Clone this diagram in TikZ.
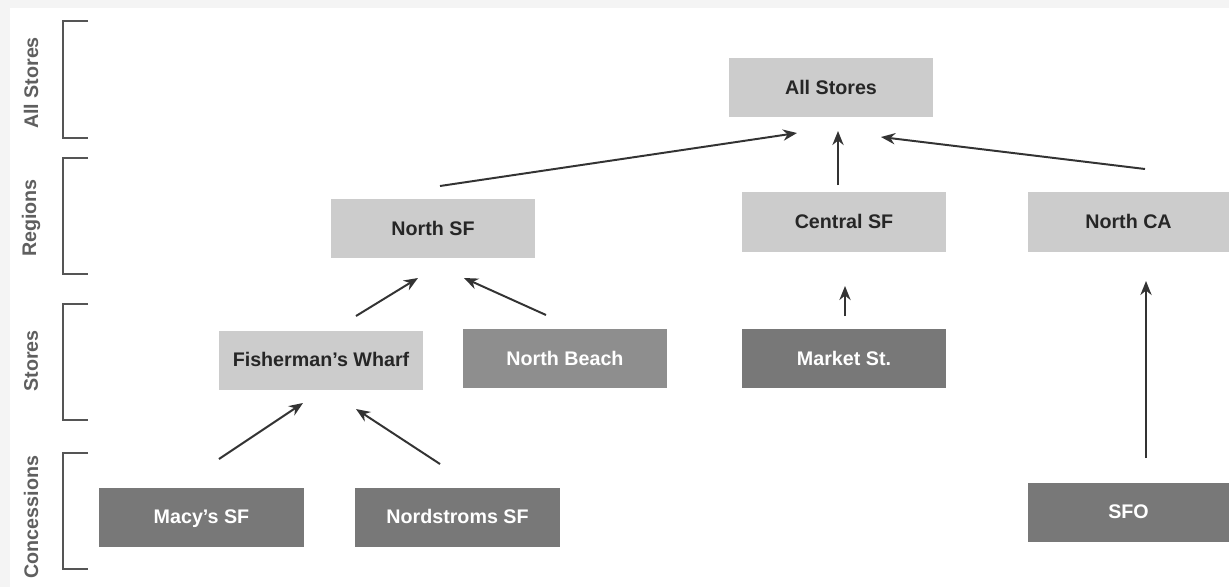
\documentclass[tikz,border=0pt]{standalone}
\usepackage{fontspec}
\setmainfont{Liberation Sans}
\usetikzlibrary{positioning,calc}
\usetikzlibrary{arrows.meta}
\definecolor{lightbox}{RGB}{204,204,204}
\definecolor{midbox}{RGB}{142,142,142}
\definecolor{darkbox}{RGB}{120,120,120}
\definecolor{bracketgray}{RGB}{85,85,85}
\definecolor{labelgray}{RGB}{95,95,95}
\definecolor{edgegray}{RGB}{244,244,244}

\begin{document}
\begin{tikzpicture}[
  x = 0.025cm,
  y = -0.025cm,
  level/.style = {
    rectangle,
    inner sep = 0pt,
    minimum width = 5.1cm,
    minimum height = 1.475cm,
    text height = 9.5pt,
    text depth = 0pt,
    font = \fontsize{14}{16}\selectfont\bfseries,
  },
  light/.style = {
    level,
    fill = lightbox,
    text = black!85,
  },
  mid/.style = {
    level,
    fill = midbox,
    text = white,
  },
  dark/.style = {
    level,
    fill = darkbox,
    text = white,
  },
  tier/.style = {
    rotate = 90,
    text = labelgray,
    font = \fontsize{14}{16}\selectfont\bfseries,
  },
  bracket/.style = {
    draw = bracketgray,
    line width = 1.3pt,
  },
  up/.style = {
    ->,
    draw = black!80,
    line width = 1.4pt,
  },
  >={Stealth[length=10pt,width=8pt]},
]

  \useasboundingbox (0,0) rectangle (1229,587);
  \fill[edgegray] (0,0) rectangle (1229,587);
  \fill[white] (10,8) rectangle (1229,587);

  % tier labels and brackets
  \node[tier] (tAll) at (31,83) {All Stores};
  \node[tier] (tReg) at (31,218) {Regions};
  \node[tier] (tSto) at (31,361) {Stores};
  \node[tier] (tCon) at (31,517) {Concessions};

  \draw[bracket] (88,21) -- (63,21) -- (63,138) -- (88,138);
  \draw[bracket] (88,158) -- (63,158) -- (63,274) -- (88,274);
  \draw[bracket] (88,304) -- (63,304) -- (63,420) -- (88,420);
  \draw[bracket] (88,453) -- (63,453) -- (63,569) -- (88,569);

  % boxes
  \node[light] (all) at (831,87.5) {All Stores};

  \node[light] (nsf) at (433,228.5) {North SF};
  \node[light] (csf) at (844,222) {Central SF};
  \node[light,minimum width=5.025cm] (nca) at (1128.5,222) {North CA};

  \node[light] (fw) at (321,360) {Fisherman's Wharf};
  \node[mid] (nb) at (565,358.5) {North Beach};
  \node[dark] (ms) at (844,358.5) {Market St.};

  \node[dark] (macy) at (201.5,517) {Macy's SF};
  \node[dark] (nord) at (457.5,517) {Nordstroms SF};
  \node[dark,minimum width=5.025cm] (sfo) at (1128.5,512) {SFO};

  % arrow ends
  \coordinate (nsfOut) at (440,186);
  \coordinate (allInL) at (797,133);
  \coordinate (csfOut) at (838,185);
  \coordinate (allInM) at (838,131);
  \coordinate (ncaOut) at (1145,169);
  \coordinate (allInR) at (881,137);

  \coordinate (fwOut) at (356,316);
  \coordinate (nsfInL) at (418,278);
  \coordinate (nbOut) at (546,315);
  \coordinate (nsfInR) at (464,278);
  \coordinate (msOut) at (845,316);
  \coordinate (csfIn) at (845,286);
  \coordinate (sfoOut) at (1146,458);
  \coordinate (ncaIn) at (1146,281);

  \coordinate (macyOut) at (219,459);
  \coordinate (fwInL) at (303,403);
  \coordinate (nordOut) at (440,464);
  \coordinate (fwInR) at (356,409);

  \draw[up] (nsfOut) -- (allInL);
  \draw[up] (csfOut) -- (allInM);
  \draw[up] (ncaOut) -- (allInR);

  \draw[up] (fwOut) -- (nsfInL);
  \draw[up] (nbOut) -- (nsfInR);
  \draw[up] (msOut) -- (csfIn);
  \draw[up] (sfoOut) -- (ncaIn);

  \draw[up] (macyOut) -- (fwInL);
  \draw[up] (nordOut) -- (fwInR);

\end{tikzpicture}
\end{document}
